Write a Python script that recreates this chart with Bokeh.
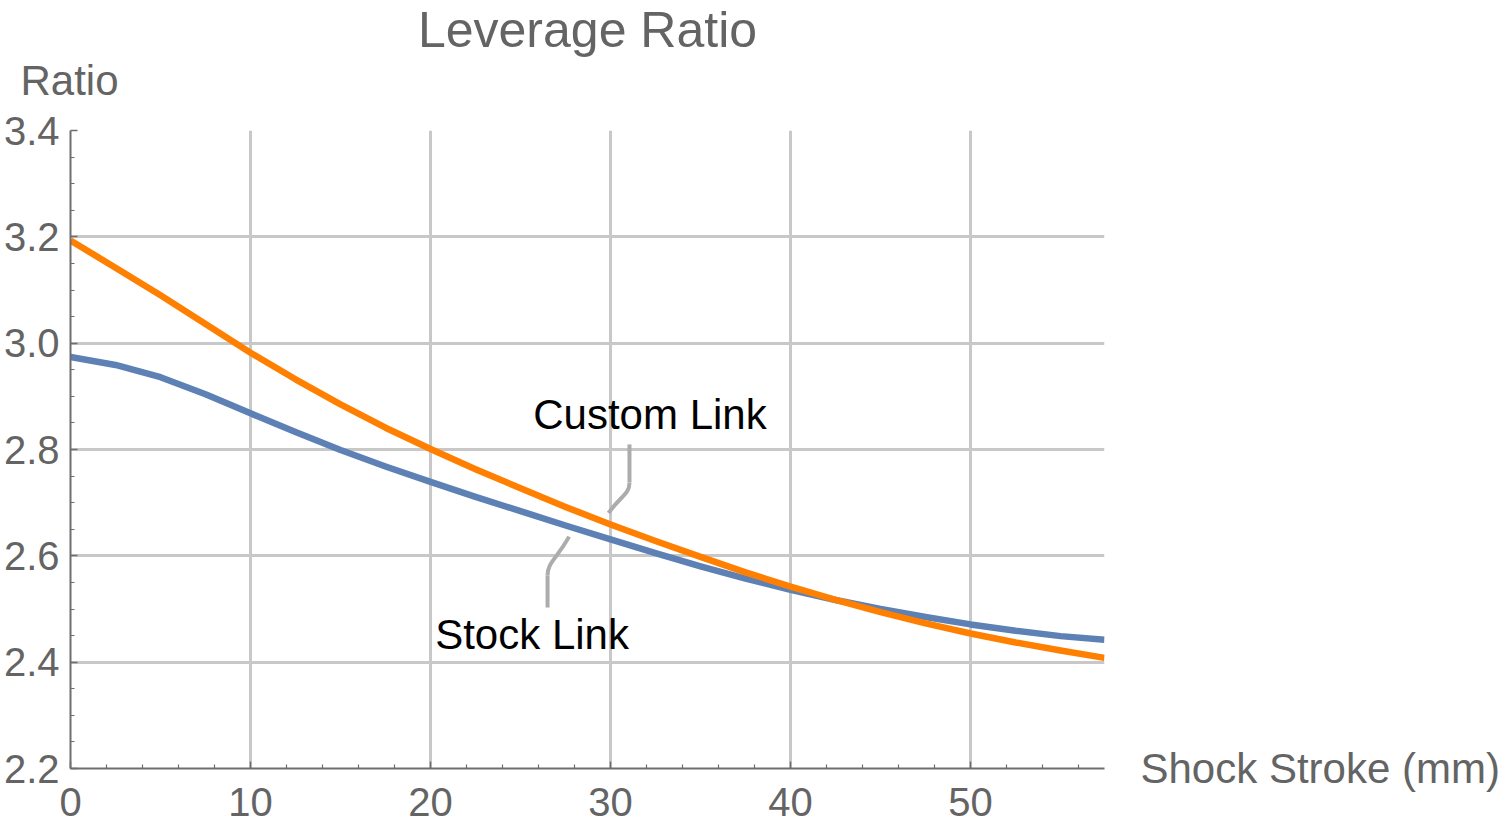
import numpy as np
from bokeh.plotting import figure
from bokeh.models import Range1d, FixedTicker, PrintfTickFormatter, Label, Title
from bokeh.embed import file_html
from bokeh.resources import INLINE

# ---------------- data ----------------
stroke_mm = [0, 2.5, 5, 7.5, 10, 12.5, 15, 17.5, 20, 22.5, 25, 27.5, 30, 32.5, 35,
             37.5, 40, 42.5, 45, 47.5, 50, 52.5, 55, 57.44]
stock_link = [2.974, 2.959, 2.936, 2.904, 2.868, 2.833, 2.799, 2.768, 2.739, 2.711,
              2.684, 2.657, 2.631, 2.605, 2.580, 2.557, 2.536, 2.517, 2.500, 2.485,
              2.471, 2.459, 2.449, 2.442]
custom_link = [3.193, 3.142, 3.090, 3.036, 2.982, 2.932, 2.885, 2.841, 2.801, 2.763,
               2.727, 2.692, 2.659, 2.628, 2.598, 2.569, 2.542, 2.517, 2.494, 2.473,
               2.454, 2.437, 2.422, 2.408]

x_ticks = [0, 10, 20, 30, 40, 50]
x_minor = [2, 4, 6, 8, 12, 14, 16, 18, 22, 24, 26, 28, 32, 34, 36, 38, 42, 44, 46, 48, 52, 54, 56]
y_ticks = [2.2, 2.4, 2.6, 2.8, 3.0, 3.2, 3.4]
y_minor = [2.25, 2.3, 2.35, 2.45, 2.5, 2.55, 2.65, 2.7, 2.75, 2.85, 2.9, 2.95,
           3.05, 3.1, 3.15, 3.25, 3.3, 3.35]

title_text = "Leverage Ratio"
x_label = "Shock Stroke (mm)"
y_label = "Ratio"
series_names = ["Stock Link", "Custom Link"]

# ---------------- layout ----------------
W, H = 1500, 829
B_LEFT, B_RIGHT, B_TOP, B_BOTTOM = 70, 396, 130, 61
XMIN, XMAX = 0, 57.44
YMIN, YMAX = 2.2, 3.4
FRAME_W = W - B_LEFT - B_RIGHT
FRAME_H = H - B_TOP - B_BOTTOM
DX = (XMAX - XMIN) / FRAME_W   # data units per pixel
DY = (YMAX - YMIN) / FRAME_H

FONT = "Liberation Sans"
GRAY_TEXT = "#646464"
AXIS_COLOR = "#6e6e6e"
BLUE = "#5E81B5"
ORANGE = "#FF8000"
GRID = "#c8c8c8"
LEADER = "#acacac"

p = figure(width=W, height=H, output_backend="svg", toolbar_location=None, title=None,
           x_range=Range1d(XMIN, XMAX), y_range=Range1d(YMIN, YMAX),
           min_border_left=B_LEFT, min_border_right=B_RIGHT,
           min_border_top=B_TOP, min_border_bottom=B_BOTTOM)
p.outline_line_color = None
p.background_fill_color = "white"
p.border_fill_color = "white"

# axes
p.xaxis.ticker = FixedTicker(ticks=x_ticks, minor_ticks=x_minor)
p.yaxis.ticker = FixedTicker(ticks=y_ticks, minor_ticks=y_minor)
p.xaxis.formatter = PrintfTickFormatter(format="%d")
p.yaxis.formatter = PrintfTickFormatter(format="%.1f")
for ax in (p.xaxis, p.yaxis):
    ax.axis_line_color = AXIS_COLOR
    ax.axis_line_width = 2
    ax.major_tick_line_color = AXIS_COLOR
    ax.minor_tick_line_color = AXIS_COLOR
    ax.major_tick_line_width = 1.5
    ax.minor_tick_line_width = 1.2
    ax.major_tick_in = 7
    ax.major_tick_out = 0
    ax.minor_tick_in = 4
    ax.minor_tick_out = 0
    ax.major_label_text_font = FONT
    ax.major_label_text_font_size = "40px"
    ax.major_label_text_color = GRAY_TEXT
p.xaxis.major_label_standoff = 19
p.yaxis.major_label_standoff = 11

# grid (interior ticks only)
p.xgrid.ticker = FixedTicker(ticks=x_ticks[1:])
p.ygrid.ticker = FixedTicker(ticks=y_ticks[1:-1])
p.xgrid.grid_line_color = GRID
p.ygrid.grid_line_color = GRID
p.xgrid.grid_line_width = 3
p.ygrid.grid_line_width = 3

# series
p.line(stroke_mm, stock_link, line_color=BLUE, line_width=6.5, line_join="round")
p.line(stroke_mm, custom_link, line_color=ORANGE, line_width=6.5, line_join="round")

# titles in the top panel: first added is nearest the frame
p.add_layout(Title(text=y_label, align="left", offset=-50, standoff=53,
                   text_font=FONT, text_font_size="42px", text_color=GRAY_TEXT,
                   text_font_style="normal"), "above")
p.add_layout(Title(text=title_text, align="center", standoff=-58,
                   text_font=FONT, text_font_size="50px", text_color=GRAY_TEXT,
                   text_font_style="normal"), "above")

# x-axis label in the right panel, level with the x axis
p.add_layout(Label(x=36, y=0, x_units="screen", y_units="screen", text=x_label,
                   text_font=FONT, text_font_size="42px", text_color=GRAY_TEXT,
                   text_align="left", text_baseline="middle"), "right")

# callouts: label position (data), target x on the series
callouts = [
    dict(text=series_names[1], lx=32.19, ly=2.866, tx=30.0, series=custom_link,
         top=(-20.5, 30), knee=(-20.5, 68), end=(-2, -11.5), c0=(0, 12), c1=(13, -18)),
    dict(text=series_names[0], lx=25.64, ly=2.452, tx=27.7, series=stock_link,
         top=(15.5, -27), knee=(15.5, -59), end=(0, 10), c0=(0, -13), c1=(-13, 23)),
]


def off(px, py, dxp, dyp):
    # pixel offset (screen: y down) to data coordinates
    return px + dxp * DX, py - dyp * DY


for c in callouts:
    p.add_layout(Label(x=c["lx"], y=c["ly"], text=c["text"], text_font=FONT,
                       text_font_size="42px", text_color="black",
                       text_align="center", text_baseline="middle"))
    ty = float(np.interp(c["tx"], stroke_mm, c["series"]))
    x0, y0 = off(c["lx"], c["ly"], *c["top"])
    x1, y1 = off(c["lx"], c["ly"], *c["knee"])
    xe, ye = off(c["tx"], ty, *c["end"])
    cx0, cy0 = off(x1, y1, *c["c0"])
    cx1, cy1 = off(xe, ye, *c["c1"])
    p.segment(x0=[x0], y0=[y0], x1=[x1], y1=[y1], line_color=LEADER, line_width=4)
    p.bezier(x0=[x1], y0=[y1], x1=[xe], y1=[ye], cx0=[cx0], cy0=[cy0], cx1=[cx1], cy1=[cy1],
             line_color=LEADER, line_width=4)

open("out.html", "w").write(file_html(p, INLINE))
